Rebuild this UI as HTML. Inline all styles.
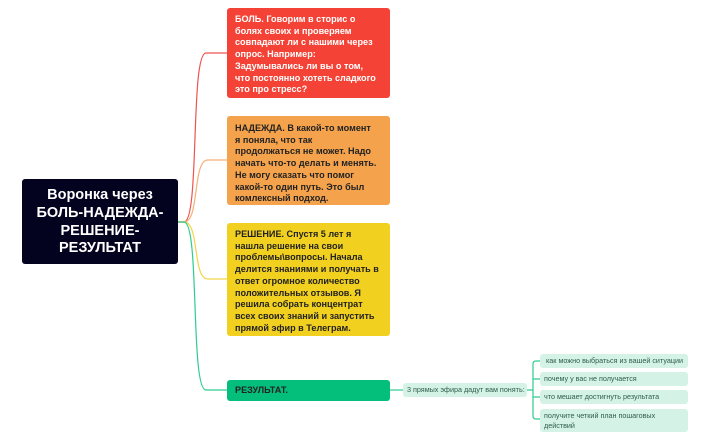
<!DOCTYPE html>
<html><head><meta charset="utf-8"><style>
body{margin:0;width:710px;height:440px;background:#fff;position:relative;overflow:hidden;font-family:"Liberation Sans","Noto Sans CJK SC",sans-serif}
.b{position:absolute;border-radius:3px;box-sizing:border-box;font-weight:bold;font-size:9.1px;line-height:11.7px;padding:4px 8px;white-space:nowrap}
.l{position:absolute;background:#d4f2e6;color:#2f5e4c;border-radius:3px;font-size:7.2px;line-height:10px;padding:2px 4px;box-sizing:border-box;white-space:nowrap}
</style></head><body>
<svg width="710" height="440" style="position:absolute;left:0;top:0">
<g fill="none" stroke-width="1.2">
<path d="M178 222 H184 C200 222 190 53 206 53 H227" stroke="#ef5350"/>
<path d="M178 222 H184 C200 222 192 160 208 160 H227" stroke="#f6b07a"/>
<path d="M178 222 H184 C200 222 192 279 208 279 H227" stroke="#f2d44a"/>
<path d="M178 222 H184 C200 222 190 390 206 390 H227" stroke="#2ecc8f"/>
<path d="M390 390 H403" stroke="#2ecc8f"/>
<path d="M527 390 H533 M540 361 H536 Q533 361 533 364 V416 Q533 419 536 419 H540 M533 379 H540 M533 397 H540" stroke="#2ecc8f"/>
</g></svg>
<div style="position:absolute;left:22px;top:179px;width:156px;height:85px;background:#03031f;border-radius:3px;color:#fff;font-weight:bold;font-size:14.5px;line-height:17.8px;text-align:center;padding-top:8px;box-sizing:border-box">Воронка через<br>БОЛЬ-НАДЕЖДА-<br>РЕШЕНИЕ-<br>РЕЗУЛЬТАТ</div>
<div class="b" style="left:227px;top:8px;width:163px;height:90px;background:#f44336;color:#fff;padding-top:6px">БОЛЬ. Говорим в сторис о<br>болях своих и проверяем<br>совпадают ли с нашими через<br>опрос. Например:<br>Задумывались ли вы о том,<br>что постоянно хотеть сладкого<br>это про стресс?</div>
<div class="b" style="left:227px;top:116px;width:163px;height:89px;background:#f4a24c;color:#222;padding-top:7px">НАДЕЖДА. В какой-то момент<br>я поняла, что так<br>продолжаться не может. Надо<br>начать что-то делать и менять.<br>Не могу сказать что помог<br>какой-то один путь. Это был<br>комлексный подход.</div>
<div class="b" style="left:227px;top:223px;width:163px;height:113px;background:#f2d01f;color:#222;padding-top:6px">РЕШЕНИЕ. Спустя 5 лет я<br>нашла решение на свои<br>проблемы\вопросы. Начала<br>делится знаниями и получать в<br>ответ огромное количество<br>положительных отзывов. Я<br>решила собрать концентрат<br>всех своих знаний и запустить<br>прямой эфир в Телеграм.</div>
<div class="b" style="left:227px;top:380px;width:163px;height:21px;background:#03bf7b;color:#222;padding:5px 8px">РЕЗУЛЬТАТ.</div>
<div class="l" style="left:403px;top:383px;width:124px;height:14px">3 прямых эфира дадут вам понять:</div>
<div class="l" style="left:540px;top:354px;width:148px;height:14px">&nbsp;как можно выбраться из вашей ситуации</div>
<div class="l" style="left:540px;top:372px;width:148px;height:14px">почему у вас не получается</div>
<div class="l" style="left:540px;top:390px;width:148px;height:14px">что мешает достигнуть результата</div>
<div class="l" style="left:540px;top:409px;width:148px;height:23px;line-height:9.5px">получите четкий план пошаговых<br>действий</div>
</body></html>
